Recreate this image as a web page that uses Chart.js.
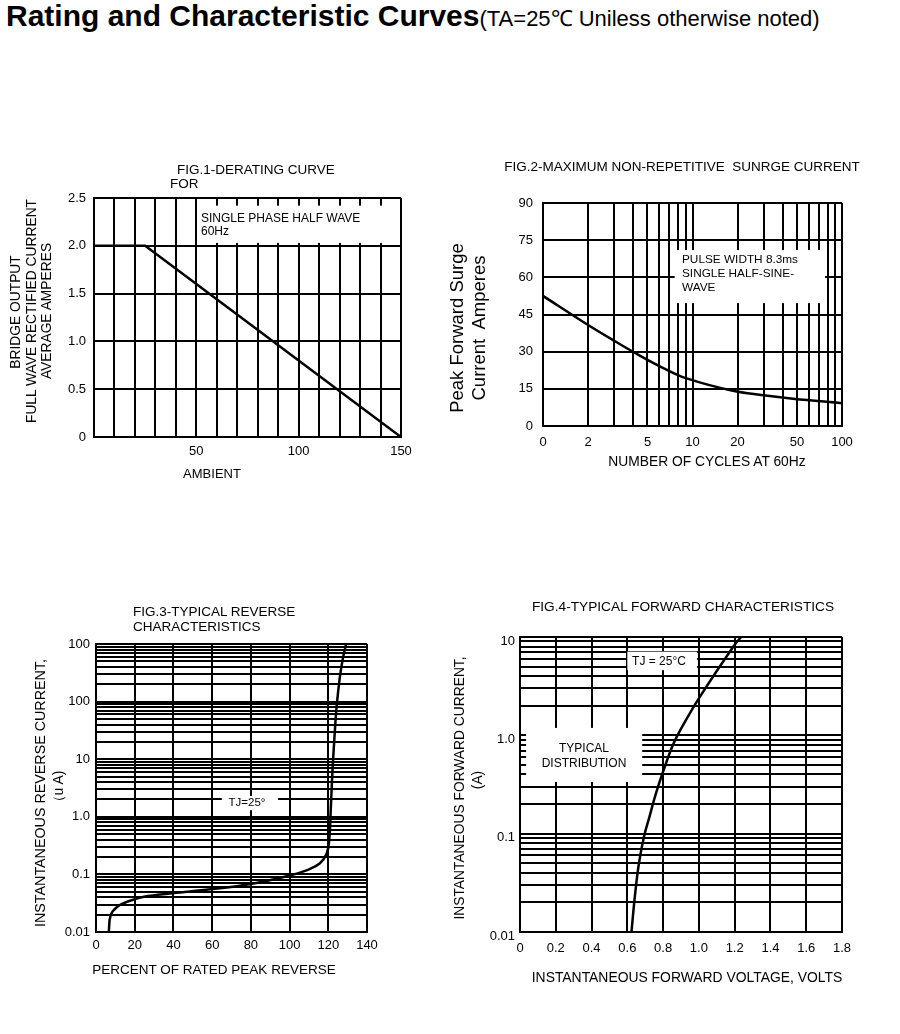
<!DOCTYPE html>
<html>
<head>
<meta charset="utf-8">
<script src="https://cdn.jsdelivr.net/npm/chart.js@4.4.1/dist/chart.umd.min.js"></script>
<style>
  html, body { margin: 0; padding: 0; background: #fff; }
  #page { position: relative; width: 900px; height: 1034px; overflow: hidden;
          font-family: 'Liberation Sans', Arial, sans-serif; color: #000; }
  canvas { position: absolute; }
  .t { position: absolute; white-space: pre; line-height: 1; }
  .c { transform: translate(-50%, -50%); }
  .l { transform: translate(0, -50%); }
  .r { transform: translate(-50%, -50%) rotate(-90deg); }
</style>
</head>
<body>
<div id="page">
  <div class="t" style="left:6px;top:1px;"><span style="font-weight:bold;font-size:30px;">Rating and Characteristic Curves</span><span style="font-size:22px;">(TA=25℃ Uniless otherwise noted)</span></div>

  <canvas id="fig1" width="420" height="340" style="left:0;top:150px;"></canvas>
  <canvas id="fig2" width="460" height="340" style="left:440px;top:150px;"></canvas>
  <canvas id="fig3" width="420" height="400" style="left:0;top:590px;"></canvas>
  <canvas id="fig4" width="460" height="400" style="left:440px;top:590px;"></canvas>

  <!-- fig 1 texts -->
  <div class="t l" style="left:177px;top:170px;font-size:13.5px;">FIG.1-DERATING CURVE</div>
  <div class="t l" style="left:170px;top:184px;font-size:13.5px;">FOR</div>
  <div class="t r" style="left:16px;top:312px;font-size:13.8px;">BRIDGE OUTPUT</div>
  <div class="t r" style="left:32px;top:311px;font-size:13.8px;">FULL WAVE RECTIFIED CURRENT</div>
  <div class="t r" style="left:47px;top:311px;font-size:13.8px;">AVERAGE AMPERES</div>
  <div class="t l" style="left:201px;top:218px;font-size:12px;">SINGLE PHASE HALF WAVE</div>
  <div class="t l" style="left:201px;top:231px;font-size:12px;">60Hz</div>
  <div class="t c" style="left:212px;top:473px;font-size:13px;">AMBIENT</div>

  <!-- fig 2 texts -->
  <div class="t c" style="left:682px;top:167px;font-size:13.5px;">FIG.2-MAXIMUM NON-REPETITIVE  SUNRGE CURRENT</div>
  <div class="t r" style="left:457px;top:328px;font-size:18.5px;">Peak Forward Surge</div>
  <div class="t r" style="left:479px;top:328px;font-size:18.5px;">Current  Amperes</div>
  <div class="t l" style="left:682px;top:260px;font-size:11.8px;">PULSE WIDTH 8.3ms</div>
  <div class="t l" style="left:682px;top:274px;font-size:11.8px;">SINGLE HALF-SINE-</div>
  <div class="t l" style="left:682px;top:288px;font-size:11.8px;">WAVE</div>
  <div class="t c" style="left:707px;top:462px;font-size:13.8px;">NUMBER OF CYCLES AT 60Hz</div>

  <!-- fig 3 texts -->
  <div class="t l" style="left:133px;top:612px;font-size:13.5px;">FIG.3-TYPICAL REVERSE</div>
  <div class="t l" style="left:133px;top:627px;font-size:13.5px;">CHARACTERISTICS</div>
  <div class="t r" style="left:40px;top:793px;font-size:14.3px;">INSTANTANEOUS REVERSE CURRENT,</div>
  <div class="t r" style="left:58px;top:790px;font-size:14px;">（u A)</div>
  <div class="t c" style="left:247px;top:803px;font-size:11.5px;">TJ=25°</div>
  <div class="t c" style="left:214px;top:970px;font-size:13.5px;">PERCENT OF RATED PEAK REVERSE</div>

  <!-- fig 4 texts -->
  <div class="t c" style="left:683px;top:607px;font-size:13.7px;">FIG.4-TYPICAL FORWARD CHARACTERISTICS</div>
  <div class="t r" style="left:460px;top:788px;font-size:13.8px;">INSTANTANEOUS FORWARD CURRENT,</div>
  <div class="t r" style="left:478px;top:780px;font-size:13.8px;">(A)</div>
  <div class="t c" style="left:659px;top:661px;font-size:12px;">TJ = 25°C</div>
  <div class="t c" style="left:584px;top:748px;font-size:12px;">TYPICAL</div>
  <div class="t c" style="left:584px;top:763px;font-size:12px;">DISTRIBUTION</div>
  <div class="t c" style="left:687px;top:978px;font-size:13.9px;">INSTANTANEOUS FORWARD VOLTAGE, VOLTS</div>
</div>

<script>
// ---- data ----
const deratingTemp = [0, 25, 150];
const deratingAmps = [2.0, 2.0, 0];

const surgeCycles = [1, 1.86, 3.03, 4.24, 6.38, 9.15, 18.3, 29.8, 47, 100];
const surgeAmps = [52.5, 42.0, 34.2, 29.1, 23.4, 19.2, 14.3, 12.4, 11.0, 9.2];

const reversePct = [6.6, 7.6, 11.0, 16.2, 24.8, 39.4, 59.2, 79.9, 99.7, 109.1, 115.7, 119.2, 120.5, 121.2, 122.1, 123.1, 124.3, 126, 127.7, 129.2];
const reverseCurrent = [0.01, 0.0197, 0.0275, 0.0336, 0.041, 0.047, 0.055, 0.068, 0.095, 0.119, 0.156, 0.232, 0.4, 1.15, 5.7, 21.5, 81, 270, 600, 1000];

const forwardVolts = [0.623, 0.644, 0.665, 0.693, 0.724, 0.76, 0.803, 0.859, 0.917, 1.0, 1.192, 1.236];
const forwardAmps = [0.01, 0.0248, 0.05, 0.093, 0.149, 0.257, 0.444, 0.83, 1.32, 2.38, 7.95, 10];

// ---- tick labels ----
const fig1YTicks = [0, 0.5, 1.0, 1.5, 2.0, 2.5];
const fig1YText = ['0', '0.5', '1.0', '1.5', '2.0', '2.5'];
const fig1XTicks = [50, 100, 150];
const fig1XText = ['50', '100', '150'];

const fig2XTicks = [1, 2, 5, 10, 20, 50, 100];
const fig2XText = ['0', '2', '5', '10', '20', '50', '100'];
const fig2YTicks = [0, 15, 30, 45, 60, 75, 90];
const fig2YText = ['0', '15', '30', '45', '60', '75', '90'];

const fig3XTicks = [0, 20, 40, 60, 80, 100, 120, 140];
const fig3XText = ['0', '20', '40', '60', '80', '100', '120', '140'];
const fig3YTicks = [0.01, 0.1, 1, 10, 100, 1000];
const fig3YText = ['0.01', '0.1', '1.0', '10', '100', '100'];

const fig4XTicks = [0, 0.2, 0.4, 0.6, 0.8, 1.0, 1.2, 1.4, 1.6, 1.8];
const fig4XText = ['0', '0.2', '0.4', '0.6', '0.8', '1.0', '1.2', '1.4', '1.6', '1.8'];
const fig4YTicks = [0.01, 0.1, 1, 10];
const fig4YText = ['0.01', '0.1', '1.0', '10'];

Chart.defaults.font.family = "'Liberation Sans', Arial, sans-serif";
Chart.defaults.color = '#000';

function linGrid(min, max, step) {
    const n = Math.round((max - min) / step);
    return Array.from({ length: n + 1 }, (_, i) => +(min + i * step).toFixed(6));
}

function logGrid(min, max) {
    const out = [];
    for (let e = Math.round(Math.log10(min)); e <= Math.round(Math.log10(max)); e++) {
        for (let m = 1; m <= 9; m++) {
            const v = parseFloat((m * Math.pow(10, e)).toPrecision(6));
            if (v >= min && v <= max * 1.000001) out.push(v);
        }
    }
    return out;
}

function labelFor(values, texts) {
    return v => {
        const i = values.findIndex(t => Math.abs(t - v) <= 1e-6 * Math.max(Math.abs(t), 1e-3));
        return i < 0 ? '' : texts[i];
    };
}

// white boxes behind the in-plot notes (cover the grid like the print does)
const maskPlugin = {
    id: 'masks',
    beforeDatasetsDraw(chart, args, opts) {
        const { ctx, scales: { x, y } } = chart;
        ctx.save();
        ctx.fillStyle = '#fff';
        (opts.boxes || []).forEach(b => {
            const x0 = x.getPixelForValue(b.x[0]);
            const x1 = x.getPixelForValue(b.x[1]);
            const y0 = y.getPixelForValue(b.y[1]);
            const y1 = y.getPixelForValue(b.y[0]);
            ctx.fillRect(x0, y0, x1 - x0, y1 - y0);
        });
        ctx.restore();
    }
};

function axis(o) {
    return {
        type: o.type,
        min: o.min,
        max: o.max,
        afterFit: s => { if (s.isHorizontal()) s.height = o.size; else s.width = o.size; },
        afterBuildTicks: s => { s.ticks = o.grid.map(v => ({ value: v })); },
        grid: { color: '#000', lineWidth: 2, drawTicks: false },
        border: { color: '#000', width: 2 },
        ticks: {
            autoSkip: false,
            maxRotation: 0,
            padding: o.pad,
            labelOffset: o.labelOffset || 0,
            color: '#000',
            font: { size: 13 },
            callback: labelFor(o.ticks, o.text)
        }
    };
}

function makeChart(id, cfg) {
    const ctx = document.getElementById(id);
    if (!ctx) return;

    new Chart(ctx, {
        type: 'line',
        data: {
            datasets: [{
                data: cfg.xs.map((v, i) => ({ x: v, y: cfg.ys[i] })),
                borderColor: '#000',
                borderWidth: 2.5,
                pointRadius: 0,
                fill: false,
                tension: cfg.tension || 0
            }]
        },
        options: {
            responsive: false,
            animation: false,
            events: [],
            layout: { padding: cfg.padding },
            plugins: {
                legend: { display: false },
                tooltip: { enabled: false },
                masks: { boxes: cfg.masks }
            },
            scales: { x: axis(cfg.x), y: axis(cfg.y) }
        },
        plugins: [maskPlugin]
    });
}

document.addEventListener('DOMContentLoaded', () => {
    makeChart('fig1', {
        xs: deratingTemp, ys: deratingAmps, tension: 0,
        padding: { left: 0, top: 48, right: 19, bottom: 23 },
        masks: [{ x: [52, 149], y: [2.03, 2.42] }],
        x: { type: 'linear', min: 0, max: 150, size: 30, pad: 7, grid: linGrid(0, 150, 10), ticks: fig1XTicks, text: fig1XText },
        y: { type: 'linear', min: 0, max: 2.5, size: 94, pad: 8, grid: linGrid(0, 2.5, 0.5), ticks: fig1YTicks, text: fig1YText }
    });

    makeChart('fig2', {
        xs: surgeCycles, ys: surgeAmps, tension: 0.4,
        padding: { left: 0, top: 53, right: 58, bottom: 34 },
        masks: [{ x: [7.6, 77], y: [49.6, 71] }],
        x: { type: 'logarithmic', min: 1, max: 100, size: 30, pad: 9, grid: logGrid(1, 100), ticks: fig2XTicks, text: fig2XText },
        y: { type: 'linear', min: 0, max: 90, size: 103, pad: 10, grid: linGrid(0, 90, 15), ticks: fig2YTicks, text: fig2YText }
    });

    makeChart('fig3', {
        xs: reversePct, ys: reverseCurrent, tension: 0.4,
        padding: { left: 0, top: 54, right: 53, bottom: 28 },
        masks: [{ x: [65, 94], y: [1.3, 2.3] }],
        x: { type: 'linear', min: 0, max: 140, size: 30, pad: 6, grid: linGrid(0, 140, 20), ticks: fig3XTicks, text: fig3XText },
        y: { type: 'logarithmic', min: 0.01, max: 1000, size: 96, pad: 6, grid: logGrid(0.01, 1000), ticks: fig3YTicks, text: fig3YText }
    });

    makeChart('fig4', {
        xs: forwardVolts, ys: forwardAmps, tension: 0.4,
        padding: { left: 0, top: 47, right: 58, bottom: 28 },
        masks: [{ x: [0.6, 0.99], y: [4.6, 7.1] }, { x: [0.034, 0.683], y: [0.336, 1.19] }],
        x: { type: 'linear', min: 0, max: 1.8, size: 30, pad: 9, grid: linGrid(0, 1.8, 0.2), ticks: fig4XTicks, text: fig4XText },
        y: { type: 'logarithmic', min: 0.01, max: 10, size: 80, pad: 5, labelOffset: 4, grid: logGrid(0.01, 10), ticks: fig4YTicks, text: fig4YText }
    });
});
</script>
</body>
</html>
